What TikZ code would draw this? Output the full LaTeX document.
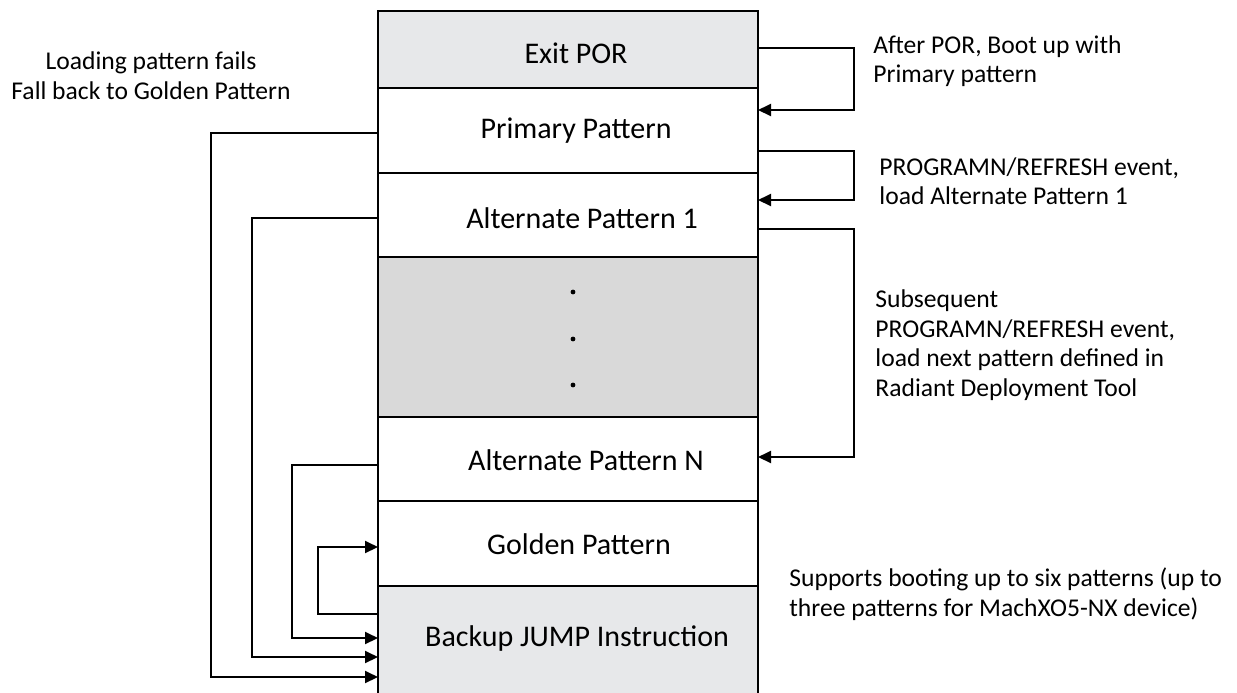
\documentclass[tikz,border=0pt]{standalone}
\usepackage{fontspec}
\setmainfont{Carlito}
\usetikzlibrary{arrows.meta, positioning}

\definecolor{porgray}{RGB}{231,232,234}
\definecolor{midgray}{RGB}{217,217,217}

\begin{document}
\begin{tikzpicture}[
        x=0.5pt, y=-0.5pt,
        node distance=0pt,
        slot/.style={rectangle, draw=black, fill=white, line width=1pt, minimum width=190pt, outer sep=0pt, inner sep=0pt},
        slotname/.style={font=\fontsize{15}{18}\selectfont},
        note/.style={align=left, anchor=west, inner sep=0pt, font=\fontsize{12.8}{14.8}\selectfont},
        jump/.style={line width=1pt, -{Triangle[length=6.5pt, width=6pt]}}
    ]
    \useasboundingbox (0,0) rectangle (1237,692);

    % Exit POR
    \node[slot, fill=porgray, minimum height=38.5pt, anchor=north west] (exitpor) at (378,11) {};
    \node[slotname] (exitporname) at ([shift={(8,4)}]exitpor.center) {Exit POR};

    % Primary
    \node[slot, minimum height=42.5pt, below=of exitpor] (primary) {};
    \node[slotname] (primaryname) at ([shift={(8,0)}]primary.center) {Primary Pattern};

    % Alternate 1
    \node[slot, minimum height=42pt, below=of primary] (alt1) {};
    \node[slotname] (alt1name) at ([shift={(14,3)}]alt1.center) {Alternate Pattern 1};

    % More patterns
    \node[slot, fill=midgray, minimum height=80pt, below=of alt1] (dots) {};
    \fill ([shift={(5,-45)}]dots.center) circle[radius=1.2pt];
    \fill ([shift={(5,2)}]dots.center) circle[radius=1.2pt];
    \fill ([shift={(5,48)}]dots.center) circle[radius=1.2pt];

    % Alternate N
    \node[slot, minimum height=42pt, below=of dots] (altn) {};
    \node[slotname] (altnname) at ([shift={(18,1)}]altn.center) {Alternate Pattern N};

    % Golden
    \node[slot, minimum height=42.5pt, below=of altn] (golden) {};
    \node[slotname] (goldenname) at ([shift={(11,1)}]golden.center) {Golden Pattern};

    % Backup JUMP
    \node[slot, fill=porgray, minimum height=54pt, below=of golden] (backup) {};
    \node[slotname] (backupname) at ([shift={(9,-2)}]backup.center) {Backup JUMP Instruction};

    % Boot sequence
    \draw[jump] ([shift={(0,37)}]exitpor.north east) -- ++(96,0) |- ([shift={(0,22)}]primary.north east);
    \draw[jump] ([shift={(0,63)}]primary.north east) -- ++(96,0) |- ([shift={(0,27)}]alt1.north east);
    \draw[jump] ([shift={(0,56)}]alt1.north east) -- ++(96,0) |- ([shift={(0,40)}]altn.north east);

    % Fall back
    \draw[jump] ([shift={(0,45)}]primary.north west) -- ++(-167,0) |- ([shift={(0,91)}]backup.north west);
    \draw[jump] ([shift={(0,45)}]alt1.north west) -- ++(-126,0) |- ([shift={(0,71)}]backup.north west);
    \draw[jump] ([shift={(0,48)}]altn.north west) -- ++(-86,0) |- ([shift={(0,52)}]backup.north west);
    \draw[jump] ([shift={(0,28)}]backup.north west) -- ++(-60,0) |- ([shift={(0,46)}]golden.north west);

    % Notes
    \node[note, align=center, anchor=center] (failnote) at (151,76) {Loading pattern fails\\Fall back to Golden Pattern};
    \node[note] (pornote) at (873,61) {After POR, Boot up with\\Primary pattern};
    \node[note] (firstnote) at (879,181) {PROGRAMN/REFRESH event,\\load Alternate Pattern 1};
    \node[note] (nextnote) at (875,345) {Subsequent\\PROGRAMN/REFRESH event,\\load next pattern defined in\\Radiant Deployment Tool};
    \node[note] (sixnote) at (789,594) {Supports booting up to six patterns (up to\\three patterns for MachXO5-NX device)};

    \end{tikzpicture}
\end{document}
